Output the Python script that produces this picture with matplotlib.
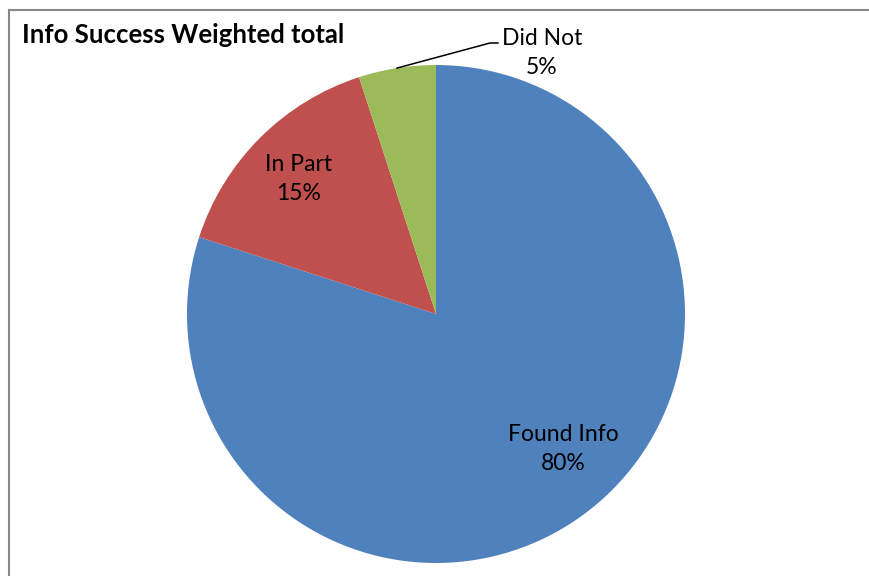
import numpy as np
import matplotlib
matplotlib.use("Agg")
from matplotlib import pyplot as plt
from matplotlib.lines import Line2D

# data
categories = ["Found Info", "In Part", "Did Not"]
shares = [80, 15, 5]
colors = ["#4F81BD", "#C0504D", "#9BBB59"]
title = "Info Success Weighted total"

W, H = 870, 576
plt.rcParams['font.family'] = ['Lato', 'DejaVu Sans']

fig = plt.figure(figsize=(W / 100, H / 100), dpi=100)
ax = fig.add_axes([0, 0, 1, 1])

cx, cy, r = 436, H - 314, 249
wedges, _ = ax.pie(shares, colors=colors, startangle=90, counterclock=False,
                   center=(cx, cy), radius=r,
                   wedgeprops=dict(linewidth=0))
ax.set_xlim(0, W)
ax.set_ylim(0, H)
ax.set_aspect('equal')
ax.axis('off')

pct = [f"{v}%" for v in shares]
fs = 16.5
ls = 1.5
# Found Info / In Part labels inside
ax.text(563, H - 449, f"{categories[0]}\n{pct[0]}", ha='center', va='center',
        fontsize=fs, linespacing=ls, color='black')
ax.text(299, H - 179, f"{categories[1]}\n{pct[1]}", ha='center', va='center',
        fontsize=fs, linespacing=ls, color='black')

# Did Not label with leader line
w = wedges[2]
mid = np.deg2rad((w.theta1 + w.theta2) / 2)
ex, ey = cx + r * np.cos(mid), cy + r * np.sin(mid)
ax.plot([ex, 490, 498], [ey, H - 43, H - 43], color='black', lw=1.1)
ax.text(542, H - 53, f"{categories[2]}\n{pct[2]}", ha='center', va='center',
        fontsize=fs, linespacing=ls, color='black')

ax.text(22, H - 35, title, ha='left', va='center', fontsize=18.5,
        fontweight='bold', color='black')

# chart frame (top and left edges visible)
fig.add_artist(Line2D([9.5 / W, 1], [1 - 9.5 / H, 1 - 9.5 / H], color='#888888', lw=1.5))
fig.add_artist(Line2D([9.5 / W, 9.5 / W], [0, 1 - 9.5 / H], color='#888888', lw=1.5))

fig.savefig("out.png", dpi=100, facecolor='white')
